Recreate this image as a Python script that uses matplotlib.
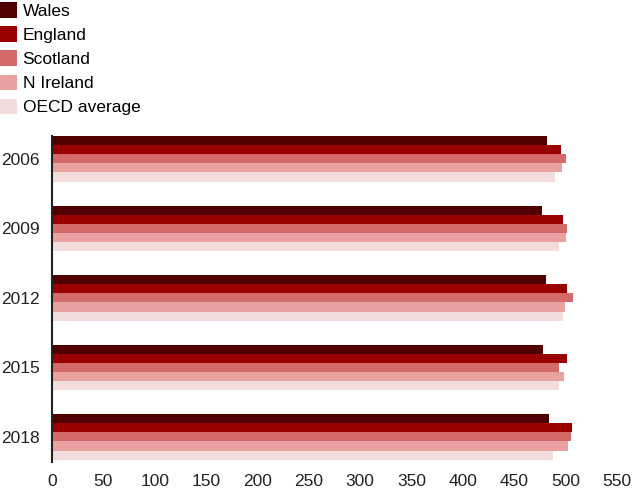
import matplotlib.pyplot as plt
import numpy as np
from matplotlib.patches import Patch

years = ['2006', '2009', '2012', '2015', '2018']
series = ['Wales', 'England', 'Scotland', 'N Ireland', 'OECD average']
wales = [482, 477, 481, 478, 484]
england = [495, 497, 501, 501, 506]
scotland = [500, 501, 507, 494, 505]
n_ireland = [496, 500, 499, 498, 502]
oecd = [490, 494, 497, 494, 488]
colors = ['#500000', '#9a0000', '#d56a6a', '#e9a1a1', '#f2dcdc']

plt.rcParams['font.family'] = ['Liberation Sans', 'DejaVu Sans']

fig = plt.figure(figsize=(6.4, 4.96), dpi=100)
ax = fig.add_axes([52 / 640, 1 - 462 / 496, 565 / 640, 326 / 496])

y = np.arange(len(years))
h = 0.13
values = [wales, england, scotland, n_ireland, oecd]
for i, (vals, c) in enumerate(zip(values, colors)):
    ax.barh(y - 2 * h + i * h, vals, height=h, color=c, edgecolor='none')

ax.set_xlim(0, 550)
ax.set_ylim(4.36, -0.33)
ax.set_xticks(np.arange(0, 551, 50))
ax.set_yticks(y)
ax.set_yticklabels(years)
ax.tick_params(axis='both', length=0, labelsize=12.5, colors='#222222')
ax.tick_params(axis='x', pad=9)
ax.tick_params(axis='y', pad=9)
for s in ['top', 'right', 'bottom']:
    ax.spines[s].set_visible(False)
ax.spines['left'].set_color('#222222')
ax.spines['left'].set_linewidth(1.5)

handles = [Patch(facecolor=c, edgecolor='none') for c in colors]
fig.legend(handles, series, loc='upper left', bbox_to_anchor=(0.0, 1 - 2 / 496),
           frameon=False, fontsize=12.5, handlelength=1.0, handleheight=1.0,
           handletextpad=0.3, labelspacing=0.43, borderaxespad=0.0,
           borderpad=0.0)

fig.savefig('out.png', dpi=100)
